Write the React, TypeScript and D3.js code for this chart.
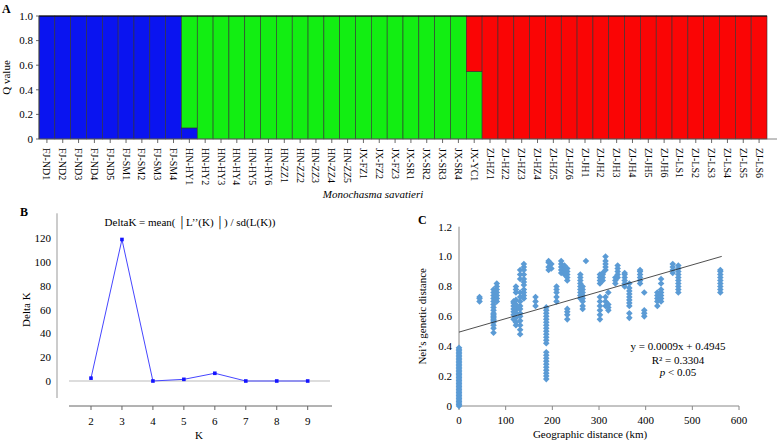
import React from "react";
import * as d3 from "d3";

// ---------- Panel A data ----------
const samples = [
  "FJ-ND1","FJ-ND2","FJ-ND3","FJ-ND4","FJ-ND5","FJ-SM1","FJ-SM2","FJ-SM3","FJ-SM4",
  "HN-HY1","HN-HY2","HN-HY3","HN-HY4","HN-HY5","HN-HY6","HN-ZZ1","HN-ZZ2","HN-ZZ3","HN-ZZ4","HN-ZZ5",
  "JX-FZ1","JX-FZ2","JX-FZ3","JX-SR1","JX-SR2","JX-SR3","JX-SR4","JX-YC1",
  "ZJ-HZ1","ZJ-HZ2","ZJ-HZ3","ZJ-HZ4","ZJ-HZ5","ZJ-HZ6","ZJ-JH1","ZJ-JH2","ZJ-JH3","ZJ-JH4","ZJ-JH5","ZJ-JH6",
  "ZJ-LS1","ZJ-LS2","ZJ-LS3","ZJ-LS4","ZJ-LS5","ZJ-LS6",
];
const clusterBlue = [1,1,1,1,1,1,1,1,1, 0.09,0,0,0,0,0,0,0,0,0,0, 0,0,0,0,0,0,0,0, 0,0,0,0,0,0,0,0,0,0,0,0, 0,0,0,0,0,0];
const clusterGreen = [0,0,0,0,0,0,0,0,0, 0.91,1,1,1,1,1,1,1,1,1,1, 1,1,1,1,1,1,1,0.55, 0,0,0,0,0,0,0,0,0,0,0,0, 0,0,0,0,0,0];
const clusterRed = [0,0,0,0,0,0,0,0,0, 0,0,0,0,0,0,0,0,0,0,0, 0,0,0,0,0,0,0,0.45, 1,1,1,1,1,1,1,1,1,1,1,1, 1,1,1,1,1,1];
const clusterColors = ["#0a14f0", "#12ee12", "#fa0505"];
const qTicks = [0, 0.2, 0.4, 0.6, 0.8, 1.0];

// ---------- Panel B data ----------
const kValues = [2, 3, 4, 5, 6, 7, 8, 9];
const deltaK = [2.4, 119, 0, 1.4, 6.5, 0, 0, 0];
const deltaKTicks = [0, 20, 40, 60, 80, 100, 120];

// ---------- Panel C data ----------
const geoDist = [0, 44, 74, 81, 117, 122, 131, 139, 164, 187, 192, 198, 209, 219, 226, 232, 260, 265, 272, 302, 308, 314, 320, 335, 340, 355, 365, 388, 397, 425, 433, 458, 470, 560];
const neiDist = [
  [0,0.01,0.02,0.03,0.04,0.05,0.06,0.07,0.08,0.09,0.10,0.11,0.12,0.13,0.14,0.15,0.16,0.17,0.18,0.19,0.20,0.21,0.22,0.23,0.24,0.25,0.26,0.27,0.28,0.29,0.30,0.31,0.32,0.33,0.34,0.35,0.36,0.37,0.38,0.39],
  [0.70,0.72,0.73],
  [0.49,0.52,0.54,0.56,0.57,0.58,0.59,0.60,0.61,0.62,0.64,0.66,0.68,0.70,0.72,0.74,0.76,0.78],
  [0.70,0.72,0.74,0.76,0.78,0.80,0.82],
  [0.58,0.61,0.63,0.65,0.67,0.69,0.70],
  [0.54,0.56,0.59,0.62,0.64,0.66,0.68,0.71,0.76,0.78,0.80],
  [0.48,0.51,0.54,0.57,0.60,0.62,0.65,0.67,0.70,0.73,0.76,0.85,0.88,0.91],
  [0.72,0.74,0.76,0.78,0.81,0.83,0.85,0.88,0.91,0.93,0.95],
  [0.67,0.70,0.73],
  [0.18,0.20,0.22,0.24,0.26,0.28,0.30,0.32,0.34,0.36,0.42,0.44,0.46,0.48,0.50,0.52,0.54,0.56,0.58,0.60,0.62,0.64,0.66],
  [0.91,0.93,0.96,0.97],
  [0.92,0.95],
  [0.70,0.73,0.76,0.78,0.80],
  [0.89,0.91,0.93,0.95,0.97],
  [0.88,0.90,0.92,0.94],
  [0.58,0.61,0.63,0.65,0.84,0.86,0.88,0.90,0.92],
  [0.72,0.74,0.76,0.78,0.80,0.82,0.84,0.86,0.88],
  [0.65,0.67,0.70,0.72,0.74,0.76,0.78,0.80],
  [0.97],
  [0.58,0.61,0.64,0.67,0.70,0.73,0.82,0.84,0.86,0.88],
  [0.84,0.86,0.88,0.89],
  [0.67,0.70,0.73,0.91,0.93,0.95,0.97,1.00],
  [0.64,0.66,0.68,0.76],
  [0.82,0.84,0.86],
  [0.86,0.88,0.90,0.92,0.94],
  [0.80,0.82,0.84,0.86,0.88,0.89],
  [0.59,0.62,0.67,0.69,0.71,0.73,0.75,0.77,0.79,0.82],
  [0.82,0.84,0.86,0.88,0.90,0.91],
  [0.60,0.62,0.64,0.76],
  [0.67,0.70,0.72,0.74,0.76],
  [0.70,0.72,0.74,0.76,0.78,0.82,0.85],
  [0.89,0.91,0.93,0.95],
  [0.76,0.78,0.80,0.82,0.84,0.86,0.88,0.90,0.92,0.94],
  [0.76,0.78,0.80,0.82,0.84,0.86,0.88,0.90,0.91],
];
const regSlope = 0.0009;
const regIntercept = 0.4945;
const neiTicks = [0, 0.2, 0.4, 0.6, 0.8, 1.0, 1.2];
const geoTicks = [0, 100, 200, 300, 400, 500, 600];

const FONT = "'Liberation Serif', 'Times New Roman', serif";

export default function App() {
  // ---- Panel A scales ----
  const xA = d3.scaleBand<string>().domain(samples).range([39, 767]).padding(0);
  const yA = d3.scaleLinear().domain([0, 1]).range([139, 16]);
  const tableA = samples.map((s, i) => ({ s, b: clusterBlue[i], g: clusterGreen[i], r: clusterRed[i] }));
  const stackA = d3.stack<any>().keys(["b", "g", "r"])(tableA);

  // ---- Panel B scales ----
  const xB = d3.scaleLinear().domain([2, 9]).range([91, 307.7]);
  const yB = d3.scaleLinear().domain([0, 120]).range([381, 238.3]);
  const lineB = d3.line<number>().x((_, i) => xB(kValues[i])).y((v) => yB(v));

  // ---- Panel C scales ----
  const xC = d3.scaleLinear().domain([0, 600]).range([459, 739]);
  const yC = d3.scaleLinear().domain([0, 1.2]).range([406, 226.7]);
  const pointsC: { d: number; v: number }[] = [];
  geoDist.forEach((d, i) => neiDist[i].forEach((v) => pointsC.push({ d, v })));
  const diamond = (r: number) => `M0,${-r}L${r},0L0,${r}L${-r},0Z`;

  const fmtQ = (v: number) => (v === 0 ? "0" : v.toFixed(1));

  return (
    <svg width={780} height={440} style={{ display: "block", position: "absolute", left: 0, top: 0, background: "#fff" }} fontFamily={FONT}>
      <rect x={0} y={0} width={780} height={440} fill="#fff" />
      {/* ================= Panel A ================= */}
      <text x={2} y={13} fontSize={12} fontWeight="bold">A</text>
      {stackA.map((layer, li) => (
        <g key={li} fill={clusterColors[li]}>
          {layer.map((seg, i) => {
            const h = yA(seg[0]) - yA(seg[1]);
            if (h <= 0) return null;
            return (
              <rect key={i} x={xA(samples[i])} y={yA(seg[1])} width={xA.bandwidth()} height={h}
                stroke="#333" strokeWidth={0.6} />
            );
          })}
        </g>
      ))}
      <line x1={39} x2={767} y1={yA(1)} y2={yA(1)} stroke="#000" strokeWidth={1.2} />
      {/* y axis */}
      <line x1={39} x2={39} y1={yA(0)} y2={yA(1)} stroke="#444" strokeWidth={0.8} />
      {qTicks.map((t) => (
        <g key={t}>
          <line x1={36} x2={39} y1={yA(t)} y2={yA(t)} stroke="#444" strokeWidth={0.8} />
          <text x={33} y={yA(t)} dy="0.35em" textAnchor="end" fontSize={11}>{fmtQ(t)}</text>
        </g>
      ))}
      <text transform={`translate(10,${yA(0.5)}) rotate(-90)`} textAnchor="middle" fontSize={11}>Q value</text>
      {/* x axis */}
      <line x1={39} x2={777} y1={yA(0)} y2={yA(0)} stroke="#666" strokeWidth={0.8} />
      {samples.map((s) => {
        const cx = (xA(s) as number) + xA.bandwidth() / 2;
        return (
          <g key={s}>
            <line x1={cx} x2={cx} y1={yA(0)} y2={yA(0) + 4} stroke="#444" strokeWidth={0.8} />
            <text transform={`translate(${cx},148) rotate(90)`} dy="0.35em" fontSize={10}>{s}</text>
          </g>
        );
      })}
      <text x={373} y={198} textAnchor="middle" fontSize={11} fontStyle="italic">Monochasma savatieri</text>

      {/* ================= Panel B ================= */}
      <text x={20} y={216} fontSize={12} fontWeight="bold">B</text>
      <text x={190} y={226} textAnchor="middle" fontSize={11}>DeltaK = mean( │L’’(K) │) / sd(L(K))</text>
      <line x1={57} x2={57} y1={yB(141)} y2={yB(-14.3)} stroke="#999" strokeWidth={1} />
      {deltaKTicks.map((t) => (
        <text key={t} x={51} y={yB(t)} dy="0.35em" textAnchor="end" fontSize={11}>{t}</text>
      ))}
      <line x1={69} x2={330} y1={yB(0)} y2={yB(0)} stroke="#bbb" strokeWidth={1} />
      <line x1={69} x2={332} y1={406} y2={406} stroke="#666" strokeWidth={1} />
      {kValues.map((k) => (
        <g key={k}>
          <line x1={xB(k)} x2={xB(k)} y1={406} y2={410} stroke="#666" strokeWidth={1} />
          <text x={xB(k)} y={425} textAnchor="middle" fontSize={11}>{k}</text>
        </g>
      ))}
      <text x={199} y={439} textAnchor="middle" fontSize={11}>K</text>
      <text transform={`translate(30,${yB(60)}) rotate(-90)`} textAnchor="middle" fontSize={11}>Delta K</text>
      <path d={lineB(deltaK) || ""} fill="none" stroke="#4646ff" strokeWidth={1} />
      {deltaK.map((v, i) => (
        <rect key={i} x={xB(kValues[i]) - 1.8} y={yB(v) - 1.8} width={3.6} height={3.6} fill="#1414ff" />
      ))}

      {/* ================= Panel C ================= */}
      <text x={418} y={224} fontSize={12} fontWeight="bold">C</text>
      <line x1={459} x2={459} y1={yC(1.2)} y2={yC(0)} stroke="#888" strokeWidth={1} />
      {neiTicks.map((t) => (
        <text key={t} x={452} y={yC(t)} dy="0.35em" textAnchor="end" fontSize={11}>{t === 0 ? "0" : t.toFixed(1)}</text>
      ))}
      <line x1={459} x2={739} y1={yC(0)} y2={yC(0)} stroke="#888" strokeWidth={1} />
      {geoTicks.map((t) => (
        <g key={t}>
          <line x1={xC(t)} x2={xC(t)} y1={yC(0)} y2={yC(0) + 4} stroke="#888" strokeWidth={1} />
          <text x={xC(t)} y={424} textAnchor="middle" fontSize={11}>{t}</text>
        </g>
      ))}
      <text x={590} y={438} textAnchor="middle" fontSize={11}>Geographic distance (km)</text>
      <text transform={`translate(426,${yC(0.6)}) rotate(-90)`} textAnchor="middle" fontSize={11}>Nei’s genetic distance</text>
      <g fill="#5b9bd5">
        {pointsC.map((p, i) => (
          <path key={i} d={diamond(3.3)} transform={`translate(${xC(p.d)},${yC(p.v)})`} />
        ))}
      </g>
      <line x1={xC(0)} x2={xC(563)} y1={yC(regIntercept)} y2={yC(regIntercept + regSlope * 563)} stroke="#222" strokeWidth={0.8} />
      <text x={678} y={350} textAnchor="middle" fontSize={11}>y = 0.0009x + 0.4945</text>
      <text x={678} y={364} textAnchor="middle" fontSize={11}>R² = 0.3304</text>
      <text x={678} y={376} textAnchor="middle" fontSize={11}><tspan fontStyle="italic">p</tspan> &lt; 0.05</text>
    </svg>
  );
}
